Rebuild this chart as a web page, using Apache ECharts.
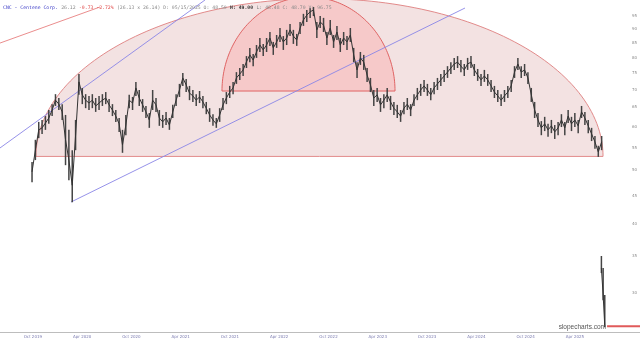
<!DOCTYPE html>
<html><head><meta charset="utf-8">
<script src="https://cdn.jsdelivr.net/npm/echarts@6/dist/echarts.min.js"></script>
<style>html,body{margin:0;padding:0;background:#fff}#c{width:640px;height:343px}</style>
</head><body><div id="c"></div>
<script>
// time in months since Jan 2019; one sample every ~12 days
const startMonth = 8.9;
const stepMonth = 0.408;
const closes = [
49.7,54.4,59.2,59.7,60.9,62.2,64.3,67.0,65.9,63.8,
56.8,52.2,47.0,57.9,72.3,68.5,67.0,66.2,67.0,65.4,
66.2,67.0,67.6,65.7,64.3,62.7,60.7,55.6,60.4,67.0,
66.2,70.5,67.6,65.7,63.8,61.7,67.0,65.7,62.2,61.2,
62.2,60.4,63.8,67.0,69.9,73.5,71.4,69.0,68.2,67.0,
67.9,66.5,64.8,63.0,61.7,60.7,63.0,65.7,67.6,69.3,
70.5,73.5,74.7,76.0,78.6,80.9,79.2,81.9,84.3,82.6,
84.3,86.8,83.3,85.4,87.9,85.4,86.8,89.8,87.5,86.1,
90.5,93.6,95.5,96.8,97.6,89.8,92.8,91.6,86.8,90.5,
85.4,89.0,84.3,86.8,85.4,87.9,80.9,76.0,79.9,78.5,
74.4,71.4,67.6,68.5,65.7,67.0,68.5,66.5,64.8,63.8,
62.7,64.8,65.9,64.3,67.0,68.5,69.9,71.1,69.9,68.5,
70.5,71.7,72.9,74.1,75.3,76.6,77.9,78.5,77.2,76.0,
77.9,78.5,76.0,74.4,72.9,74.1,72.9,71.1,69.3,68.2,
67.0,68.2,69.3,71.1,75.3,77.9,75.3,76.0,73.5,68.5,
64.3,61.7,59.7,60.7,59.2,60.2,58.7,59.7,61.7,59.7,
62.7,60.7,61.7,60.2,63.8,62.2,60.2,58.2,56.3,54.0,
56.3];
const lows = [
47.6,52.2,57.2,58.2,59.2,60.7,62.7,65.4,64.3,61.7,
51.1,48.0,43.8,54.4,68.5,65.9,64.8,64.3,64.8,63.8,
64.3,65.4,65.9,63.8,62.7,61.2,58.7,53.8,57.9,64.8,
64.3,68.2,65.4,63.8,62.2,59.7,64.3,63.8,60.2,59.7,
60.4,59.2,62.2,65.4,67.9,71.1,69.3,67.0,66.5,65.4,
66.2,64.8,63.2,61.2,60.2,59.7,61.2,64.3,65.9,67.6,
68.7,71.7,72.9,74.1,76.6,78.5,77.2,79.9,81.9,80.5,
81.9,84.0,80.9,83.3,85.4,82.6,84.3,87.5,84.7,84.0,
88.3,91.3,92.8,94.4,95.1,86.8,90.5,89.0,84.3,87.9,
83.3,86.1,81.9,84.3,82.6,85.4,78.5,73.5,77.6,76.0,
72.3,69.3,65.4,66.5,63.8,64.8,66.5,64.3,63.0,62.2,
61.2,63.2,64.3,62.7,65.4,67.0,68.2,69.3,68.2,67.0,
68.7,69.9,71.1,72.3,73.5,74.7,76.0,76.6,75.3,74.1,
76.0,76.6,74.1,72.6,71.1,72.3,71.1,69.3,67.6,66.5,
65.4,66.5,67.6,69.3,73.5,76.0,73.5,74.1,71.7,66.5,
62.2,59.9,57.9,58.9,57.5,58.4,57.0,57.9,59.9,57.9,
60.9,58.9,59.9,58.4,62.2,60.4,58.4,56.5,54.7,52.9,
54.4];
const highs = [
51.8,56.8,61.2,61.7,62.7,64.3,65.9,68.7,67.6,65.9,
63.0,59.2,54.4,61.7,74.7,70.5,68.7,68.2,68.7,67.6,
68.2,68.7,69.3,67.3,65.9,64.3,62.2,59.2,63.0,68.5,
67.9,72.3,69.9,67.3,65.4,63.5,69.9,67.6,64.3,63.0,
63.8,62.2,65.7,68.7,71.7,75.0,73.2,71.1,69.9,68.7,
69.6,68.2,66.5,64.8,63.2,62.2,64.8,67.6,69.3,71.1,
72.3,75.3,76.6,77.9,80.5,83.3,81.2,84.3,86.8,84.7,
86.8,89.0,85.4,87.9,90.5,87.5,89.8,92.0,89.8,88.3,
92.8,96.0,97.6,98.4,98.8,92.8,95.1,94.4,89.0,93.6,
87.9,91.3,86.8,89.0,87.5,90.5,83.3,78.5,81.9,80.9,
76.6,73.5,69.9,70.5,67.6,68.7,70.5,68.2,66.5,65.7,
64.3,66.5,67.6,65.9,68.7,70.5,71.7,72.9,71.7,70.5,
72.3,73.5,74.7,76.0,77.2,78.5,79.9,80.5,79.2,77.9,
79.9,80.5,77.9,76.3,74.7,76.0,74.7,72.9,71.1,69.9,
68.7,69.9,71.1,72.9,77.2,79.9,77.2,77.9,75.3,70.5,
66.5,63.5,61.4,62.5,60.7,61.7,60.4,61.2,63.2,61.2,
64.3,62.5,63.5,61.7,65.4,63.8,61.7,59.7,57.7,55.4,
57.7];
// July 2025 collapse
const tailMonths = [78.23, 78.44, 78.64];
const tailCloses = [33.3, 29.75, 26.12];
const tailLows = [32.6, 29.1, 26.0];
const tailHighs = [35.0, 33.3, 29.75];

const xTickMonths = [9,15,21,27,33,39,45,51,57,63,69,75];
const xTickLabels = ["Oct 2019","Apr 2020","Oct 2020","Apr 2021","Oct 2021","Apr 2022","Oct 2022","Apr 2023","Oct 2023","Apr 2024","Oct 2024","Apr 2025"];
const yTicks = [30,35,40,45,50,55,60,65,70,75,80,85,90,95];

// drawings: [startMonth, endMonth, basePrice, topPrice]
const bigDome = [9.38, 78.43, 53.0, 102.3];
const smallDome = [32.03, 53.10, 69.6, 103.0];
const blueLineA = [[5, 54.9], [29.96, 101.7]];
const blueLineB = [[13.65, 43.83], [61.62, 98.36]];
const redLine = [[5, 85.0], [17.18, 98.78]];

const bars = closes.map((c, i) => [startMonth + i * stepMonth, lows[i], highs[i], c]);
const tailBars = tailMonths.map((m, i) => [m, tailLows[i], tailHighs[i], tailCloses[i]]);
const lastClose = tailCloses[tailCloses.length - 1];

const domeStyles = [
  {fill: '#f3e2e2', stroke: '#e28b8b'},
  {fill: '#f6c9c9', stroke: '#e06464'}
];

function renderDome(params, api) {
  const s = api.value(0), e = api.value(1), base = api.value(2), top = api.value(3);
  const p1 = api.coord([s, base]), p2 = api.coord([e, base]);
  const pt = api.coord([(s + e) / 2, top]);
  const cx = (p1[0] + p2[0]) / 2, cy = p1[1], rx = (p2[0] - p1[0]) / 2, ry = cy - pt[1];
  const pts = [];
  for (let k = 0; k <= 120; k++) {
    const a = Math.PI * k / 120;
    pts.push([cx - rx * Math.cos(a), cy - ry * Math.sin(a)]);
  }
  const st = domeStyles[params.dataIndex];
  return {type: 'polygon', shape: {points: pts}, style: {fill: st.fill, stroke: st.stroke, lineWidth: 1}};
}
function renderBar(params, api) {
  const x = api.value(0);
  const lo = api.coord([x, api.value(1)]);
  const hi = api.coord([x, api.value(2)]);
  return {type: 'line', shape: {x1: lo[0], y1: lo[1], x2: hi[0], y2: hi[1]}, style: {stroke: '#444', lineWidth: 1.5}};
}

const chart = echarts.init(document.getElementById('c'), null, {renderer: 'canvas'});
chart.setOption({
  animation: false,
  backgroundColor: '#ffffff',
  grid: {left: 0, right: 0, top: 0, bottom: 11, containLabel: false},
  xAxis: {
    type: 'value', min: 5, max: 82.93,
    axisLine: {show: true, lineStyle: {color: '#bdbdbd', width: 1}},
    axisTick: {show: false}, splitLine: {show: false},
    axisLabel: {
      customValues: xTickMonths, fontSize: 4, color: '#7b7bb0', margin: 3,
      fontFamily: 'DejaVu Sans',
      formatter: v => { const i = xTickMonths.findIndex(m => Math.abs(m - v) < 1e-6); return i >= 0 ? xTickLabels[i] : ''; }
    }
  },
  yAxis: {
    type: 'log', min: 25.5, max: 101.7, position: 'right',
    axisLine: {show: false}, axisTick: {show: false}, splitLine: {show: false},
    axisLabel: {inside: true, customValues: yTicks, fontSize: 4, color: '#8a8a8a', margin: 3, fontFamily: 'DejaVu Sans'}
  },
  series: [
    {type: 'custom', renderItem: renderDome, data: [bigDome, smallDome], z: 1, silent: true, clip: false},
    {type: 'line', data: blueLineA, showSymbol: false, lineStyle: {color: '#8a86e6', width: 0.9}, z: 2, silent: true},
    {type: 'line', data: blueLineB, showSymbol: false, lineStyle: {color: '#8a86e6', width: 0.9}, z: 2, silent: true},
    {type: 'line', data: redLine, showSymbol: false, lineStyle: {color: '#e88080', width: 0.9}, z: 2, silent: true},
    {type: 'custom', renderItem: renderBar, data: bars, z: 3, silent: true},
    {type: 'line', data: bars.map(b => [b[0], b[3]]), showSymbol: false, lineStyle: {color: '#333', width: 1}, z: 3, silent: true},
    {type: 'custom', renderItem: renderBar, data: tailBars, z: 3, silent: true},
    {type: 'line', data: tailBars.map(b => [b[0], b[3]]), showSymbol: false, lineStyle: {color: '#333', width: 1}, z: 3, silent: true},
    {type: 'line', data: [[78.92, lastClose], [82.93, lastClose]], showSymbol: false, lineStyle: {color: '#e05a5a', width: 2}, z: 4, silent: true}
  ],
  graphic: [
    {type: 'text', left: 3, top: 2, z: 10, style: {
      text: '{t|CNC - Centene Corp.} {g|26.12} {r|-0.73 -2.72%} {g|(26.13 x 26.14) D: 05/15/2025 O: 48.50} {b|H: 49.00} {g|L: 48.48 C: 48.70 V: 96.75}',
      rich: {
        t: {fill: '#4040c8', fontSize: 4.8, fontFamily: 'DejaVu Sans Mono'},
        g: {fill: '#8a8a8a', fontSize: 4.8, fontFamily: 'DejaVu Sans Mono'},
        r: {fill: '#e04848', fontSize: 4.8, fontFamily: 'DejaVu Sans Mono'},
        b: {fill: '#333', fontSize: 4.8, fontWeight: 'bold', fontFamily: 'DejaVu Sans Mono'}
      }
    }},
    {type: 'text', x: 606, y: 327, z: 10, style: {text: 'slopecharts.com', align: 'right', verticalAlign: 'middle', font: '6.5px "Liberation Sans"', fill: '#555'}}
  ]
});
</script></body></html>
